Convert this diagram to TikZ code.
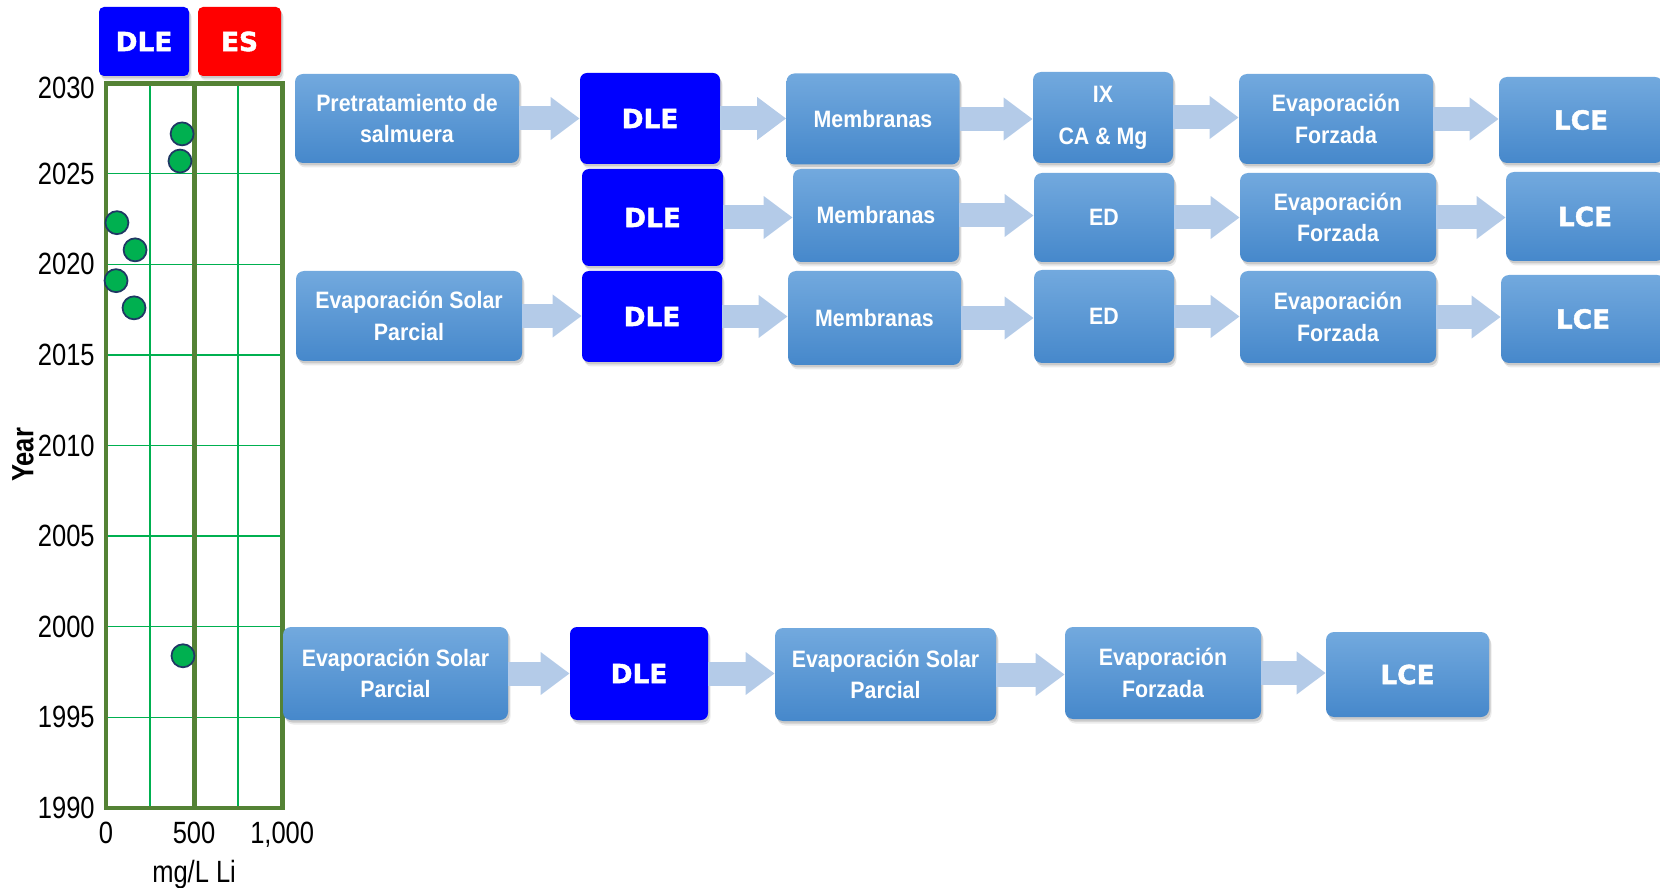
\documentclass[tikz,border=0pt]{standalone}
\usepackage{fontspec}
\usepackage{tikz}
\usetikzlibrary{arrows.meta, positioning, shadows}
\newfontfamily\boxfont[FakeStretch=0.9]{Liberation Sans}
\newfontfamily\axisfont[FakeStretch=0.83]{Liberation Sans}
\newfontfamily\heavyfont[FakeBold=1.6]{DejaVu Sans Bold}
\definecolor{stageTop}{HTML}{72A9DE}
\definecolor{stageBot}{HTML}{4688CB}
\definecolor{arrowFill}{HTML}{B4CBE8}
\definecolor{dleBlue}{HTML}{0000FF}
\definecolor{esRed}{HTML}{FF0000}
\definecolor{gridDark}{HTML}{548235}
\definecolor{gridLight}{HTML}{00B050}
\definecolor{dotGreen}{HTML}{00B050}
\definecolor{dotEdge}{HTML}{1F3864}

\begin{document}
\begin{tikzpicture}[
  x=0.02cm, y=-0.02cm,
  boxsize/.style 2 args={minimum width=#1*0.02cm, minimum height=#2*0.02cm},
  shade/.style={
    drop shadow={shadow xshift=0.05cm, shadow yshift=-0.09cm, opacity=0.08, fill=black},
    drop shadow={shadow xshift=0.03cm, shadow yshift=-0.05cm, opacity=0.14, fill=black},
  },
  stage/.style={
    rectangle, rounded corners=0.16cm, top color=stageTop, bottom color=stageBot,
    inner sep=0pt, align=center, text=white, shade,
    font=\boxfont\bfseries\fontsize{13.5}{18}\selectfont,
  },
  lce/.style={stage, font=\heavyfont\fontsize{15}{15}\selectfont},
  dle/.style={
    rectangle, rounded corners=0.14cm, fill=dleBlue, inner sep=0pt,
    text=white, shade, font=\heavyfont\fontsize{15}{15}\selectfont,
  },
  legend/.style={dle, rounded corners=0.1cm, fill=#1},
  flow/.style={-{Triangle[length=0.58cm, width=0.82cm]}, line width=0.48cm, draw=arrowFill},
  tick/.style={font=\axisfont\fontsize{17.5}{17.5}\selectfont, inner sep=0pt},
  thickgrid/.style={draw=gridDark, line width=2.8pt},
  thingrid/.style={draw=gridLight, line width=0.8pt},
  dot/.style={fill=dotGreen, draw=dotEdge, line width=1pt},
]
\useasboundingbox (0,0) rectangle (1660,888);
\clip (0,0) rectangle (1660,888);

% Legend
\node[legend=dleBlue, boxsize={90}{69}] (legDLE) at (144,41.5) {DLE};
\node[legend=esRed, boxsize={83}{69}] (legES) at (239.5,41.5) {ES};

% Chart: mg/L Li vs year
\begin{scope}[shift={(106,808)}, x=0.00352cm, y=0.3625cm]
  \foreach \m in {250,750}
    \draw[thingrid] (\m,0) -- (\m,40);
  \foreach \t in {5,10,...,35}
    \draw[thingrid] (0,\t) -- (1000,\t);
  \draw[thickgrid] (500,0) -- (500,40);
  \draw[thickgrid] (0,0) rectangle (1000,40);
  \foreach \yr in {1990,1995,...,2025}
    \node[tick, anchor=east, xshift=-0.22cm] at (0,\yr-1990) {\yr};
  \node[tick, anchor=east, xshift=-0.22cm, yshift=-0.1cm] at (0,40) {2030};
  \node[tick, anchor=north, yshift=-0.28cm] (x0) at (0,0) {0};
  \node[tick, anchor=north, yshift=-0.28cm] (x500) at (500,0) {500};
  \node[tick, anchor=north, yshift=-0.28cm] (x1000) at (1000,0) {1,000};
  \node[tick, below=0.3cm of x500] (xlab) {mg/L Li};
  \foreach \m/\yr in {432/2027.2, 420/2025.7, 62/2022.3, 165/2020.8, 57/2019.1, 159/2017.6, 437/1998.4}
    \draw[dot] (\m,\yr-1990) circle[radius=0.23cm];
\end{scope}
\node[tick, font=\axisfont\bfseries\fontsize{17.5}{17.5}\selectfont, rotate=90] (ylab) at (23,455) {Year};

% Row 1
\node[stage, boxsize={224}{89}] (preA) at (407,118.5) {Pretratamiento de\\salmuera};
\node[dle, boxsize={140}{91}] (dleA) at (650,118.5) {DLE};
\node[stage, boxsize={173}{91}] (memA) at (873,119) {Membranas};
\node[stage, boxsize={140}{91}] (ixA) at (1103,117.5) {IX\\[6pt]CA \& Mg};
\node[stage, boxsize={194}{90}] (evfA) at (1336,119) {Evaporación\\Forzada};
\node[lce, boxsize={164}{86}] (lceA) at (1581,120) {LCE};

% Row 2
\node[dle, boxsize={141}{97}] (dleB) at (652.5,217.5) {DLE};
\node[stage, boxsize={166}{93}] (memB) at (876,215.5) {Membranas};
\node[stage, boxsize={140}{89}] (edB) at (1104,217.5) {ED};
\node[stage, boxsize={196}{89}] (evfB) at (1338,217.5) {Evaporación\\Forzada};
\node[lce, boxsize={158}{89}] (lceB) at (1585,216.5) {LCE};

% Row 3
\node[stage, boxsize={226}{90}] (espC) at (409,316) {Evaporación Solar\\Parcial};
\node[dle, boxsize={140}{91}] (dleC) at (652,316.5) {DLE};
\node[stage, boxsize={173}{94}] (memC) at (874.5,318) {Membranas};
\node[stage, boxsize={140}{93}] (edC) at (1104,316.5) {ED};
\node[stage, boxsize={196}{92}] (evfC) at (1338,317) {Evaporación\\Forzada};
\node[lce, boxsize={164}{88}] (lceC) at (1583,319) {LCE};

% Row 4
\node[stage, boxsize={225}{93}] (espD) at (395.5,673.5) {Evaporación Solar\\Parcial};
\node[dle, boxsize={138}{93}] (dleD) at (639,673.5) {DLE};
\node[stage, boxsize={221}{93}] (espE) at (885.5,674.5) {Evaporación Solar\\Parcial};
\node[stage, boxsize={196}{92}] (evfD) at (1163,673) {Evaporación\\Forzada};
\node[lce, boxsize={163}{85}] (lceD) at (1407.5,674.5) {LCE};

% Arrows
\draw[flow] (preA.east) -- (preA.east -| dleA.west);
\draw[flow] (dleA.east) -- (dleA.east -| memA.west);
\draw[flow] (memA.east) -- (memA.east -| ixA.west);
\draw[flow] (ixA.east) -- (ixA.east -| evfA.west);
\draw[flow] (evfA.east) -- (evfA.east -| lceA.west);

\draw[flow] (dleB.east) -- (dleB.east -| memB.west);
\draw[flow] (memB.east) -- (memB.east -| edB.west);
\draw[flow] (edB.east) -- (edB.east -| evfB.west);
\draw[flow] (evfB.east) -- (evfB.east -| lceB.west);

\draw[flow] (espC.east) -- (espC.east -| dleC.west);
\draw[flow] (dleC.east) -- (dleC.east -| memC.west);
\draw[flow] (memC.east) -- (memC.east -| edC.west);
\draw[flow] (edC.east) -- (edC.east -| evfC.west);
\draw[flow] (evfC.east) -- (evfC.east -| lceC.west);

\draw[flow] (espD.east) -- (espD.east -| dleD.west);
\draw[flow] (dleD.east) -- (dleD.east -| espE.west);
\draw[flow] (espE.east) -- (espE.east -| evfD.west);
\draw[flow] (evfD.east) -- (evfD.east -| lceD.west);

\end{tikzpicture}
\end{document}
